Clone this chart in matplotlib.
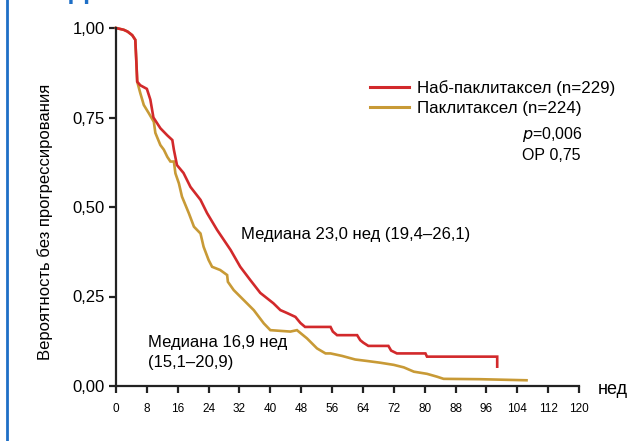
import matplotlib
matplotlib.use("Agg")
import matplotlib.pyplot as plt
from matplotlib.lines import Line2D

plt.rcParams['font.family'] = ['Liberation Sans', 'DejaVu Sans']

# Наб-паклитаксел (недели, вероятность)
nab_t = [0, 2, 3, 4.2, 5.0, 5.3, 5.5, 6.3, 8.0, 8.9, 9.7, 11.5, 13.3, 14.6, 15.0, 15.8,
         17.5, 19.3, 21.9, 23.6, 26.2, 29.7, 32.2, 34.8, 37.4, 40.8, 42.6, 44.3, 46.5,
         47.8, 49.0, 55.6, 56.2, 57.3, 62.5, 63.3, 64.1, 65.4, 70.6, 71.3, 72.8, 80.2,
         80.6, 98.8, 98.8]
nab_s = [1.00, 0.995, 0.99, 0.98, 0.967, 0.90, 0.85, 0.84, 0.83, 0.80, 0.75, 0.72, 0.70,
         0.687, 0.66, 0.617, 0.595, 0.556, 0.52, 0.483, 0.436, 0.38, 0.333, 0.296, 0.26,
         0.231, 0.212, 0.204, 0.193, 0.176, 0.165, 0.165, 0.152, 0.142, 0.142, 0.128,
         0.121, 0.112, 0.112, 0.099, 0.091, 0.091, 0.082, 0.082, 0.054]

# Паклитаксел
pac_t = [0, 2, 3, 4.2, 5.0, 5.3, 5.5, 6.3, 7.2, 8.5, 9.8, 10.2, 11.5, 12.4, 13.3, 14.1,
         15.0, 15.4, 16.3, 17.1, 18.9, 20.2, 21.9, 22.7, 24.0, 24.9, 27.0, 28.8, 29.0,
         30.5, 33.1, 35.7, 38.3, 40.0, 45.2, 46.9, 49.5, 52.1, 54.3, 55.6, 58.6, 62.0,
         65.0, 68.5, 72.0, 74.6, 77.2, 80.6, 83.2, 84.9, 94.4, 106.4]
pac_s = [1.00, 0.995, 0.99, 0.98, 0.967, 0.90, 0.85, 0.818, 0.785, 0.762, 0.738, 0.707,
         0.673, 0.66, 0.64, 0.627, 0.627, 0.594, 0.566, 0.529, 0.482, 0.445, 0.426, 0.389,
         0.352, 0.333, 0.324, 0.31, 0.291, 0.268, 0.24, 0.212, 0.175, 0.156, 0.152, 0.156,
         0.133, 0.105, 0.091, 0.091, 0.084, 0.074, 0.07, 0.065, 0.059, 0.052, 0.04, 0.034,
         0.026, 0.02, 0.019, 0.016]

xticks = list(range(0, 121, 8))
yticks = [0, 0.25, 0.5, 0.75, 1.0]
ylabels = ["0,00", "0,25", "0,50", "0,75", "1,00"]

red = "#d2292b"
gold = "#c89a36"

fig = plt.figure(figsize=(6.35, 4.41), dpi=100)
ax = fig.add_axes([116 / 635, 55 / 441, 463 / 635, 358 / 441])

ax.plot(pac_t, pac_s, color=gold, lw=1.9, clip_on=False, solid_joinstyle="miter")
ax.plot(nab_t, nab_s, color=red, lw=1.9, clip_on=False, solid_joinstyle="miter")

ax.set_xlim(0, 120)
ax.set_ylim(0, 1)
ax.set_xticks(xticks)
ax.set_xticklabels([str(t) for t in xticks], fontsize=8.5)
ax.set_yticks(yticks)
ax.set_yticklabels(ylabels, fontsize=12)
ax.tick_params(axis="both", direction="out", length=5, width=1.6, color="#222222")
ax.tick_params(axis="x", pad=7)
ax.tick_params(axis="y", pad=3)
for s in ["top", "right"]:
    ax.spines[s].set_visible(False)
for s in ["left", "bottom"]:
    ax.spines[s].set_linewidth(1.6)
    ax.spines[s].set_color("#222222")

fig.text(45 / 635, 1 - 222 / 441, "Вероятность без прогрессирования", fontsize=12,
         rotation=90, ha="center", va="center")

# подпись оси х справа
fig.text(598 / 635, 1 - 389 / 441, "нед", fontsize=13, ha="left", va="center")

# легенда
h = [Line2D([], [], color=red, lw=2.2), Line2D([], [], color=gold, lw=2.2)]
fig.legend(h, ["Наб-паклитаксел (n=229)", "Паклитаксел (n=224)"],
           loc="upper left", bbox_to_anchor=(370 / 635, 1 - 80 / 441),
           frameon=False, fontsize=12.2, handlelength=2.3, handletextpad=0.45,
           labelspacing=0.3, borderaxespad=0, borderpad=0)

fig.text(522 / 635, 1 - 134 / 441, "$\\it{p}$=0,006", fontsize=11.5, va="center")
fig.text(522 / 635, 1 - 155 / 441, "ОР 0,75", fontsize=11.5, va="center")

fig.text(241 / 635, 1 - 234 / 441, "Медиана 23,0 нед (19,4–26,1)", fontsize=12, va="center")
fig.text(148 / 635, 1 - 342 / 441, "Медиана 16,9 нед", fontsize=12, va="center")
fig.text(148 / 635, 1 - 362 / 441, "(15,1–20,9)", fontsize=12, va="center")

# синяя рамка слева и обрезанная буква сверху
fig.add_artist(Line2D([6.5 / 635, 6.5 / 635], [0, 1], color="#1e6fc6", lw=2))
fig.text(79 / 635, 1 + 22 / 441, "Д", fontsize=20, fontweight="bold", color="#1e6fc6",
         ha="center", va="top")

fig.savefig("out.png", dpi=100)
